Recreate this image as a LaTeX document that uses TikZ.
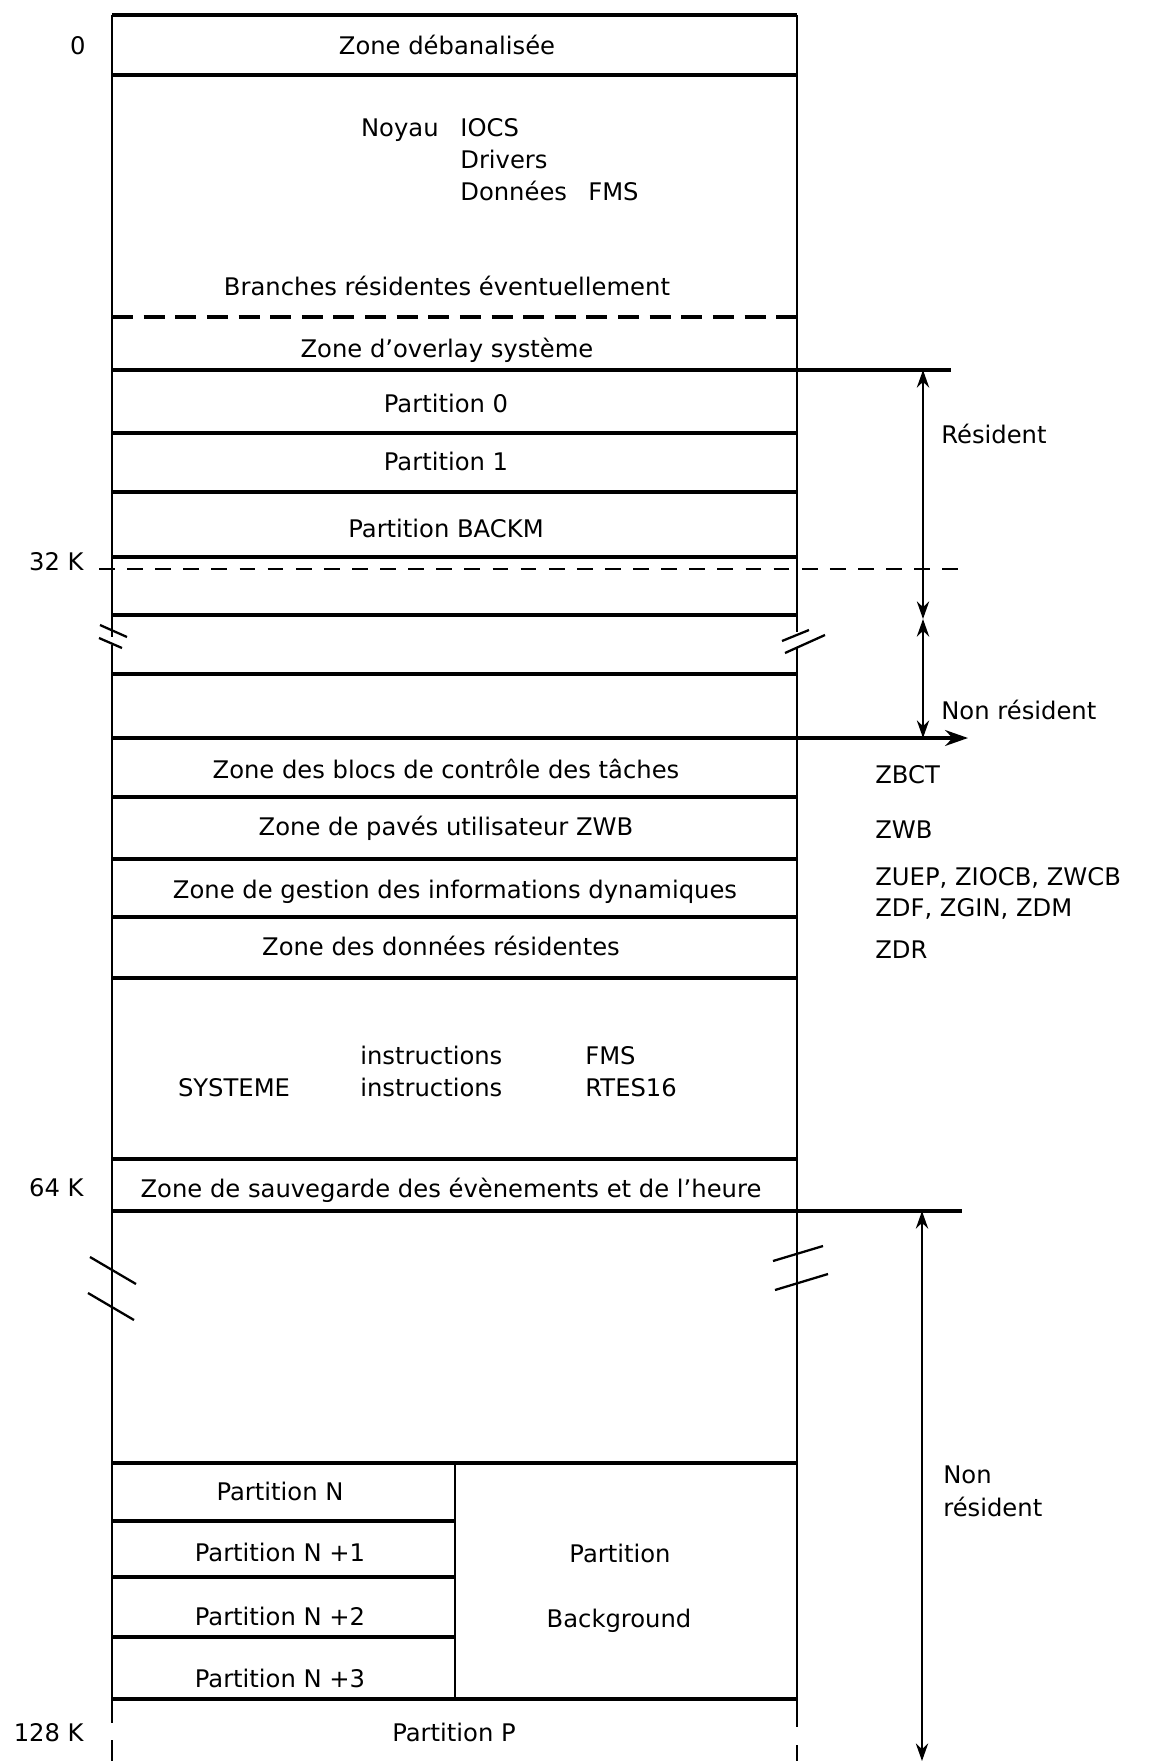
\documentclass[tikz,border=0pt]{standalone}
\usepackage{fontspec}
\setmainfont{DejaVu Sans}
\usetikzlibrary{arrows.meta}

\begin{document}
\begin{tikzpicture}[x=0.02cm, y=-0.02cm,
    sep/.style={line width=2pt},
    side/.style={line width=1.2pt},
    cut/.style={line width=1.3pt},
    lbl/.style={inner sep=0pt, anchor=mid, yshift=-0.1cm, font=\fontsize{13.8}{16}\selectfont},
    lft/.style={lbl, anchor=mid west},
    adr/.style={lbl, anchor=mid east},
    dim/.style={line width=1.2pt, {Stealth[length=10pt,width=7pt]}-{Stealth[length=10pt,width=7pt]}}]

\useasboundingbox (0,0) rectangle (1153,1761);

% sides of the map, with the cuts
\draw[side] (112,15) -- (112,637);
\draw[side] (112,645) -- (112,1723);
\draw[side] (112,1740) -- (112,1761);
\draw[side] (797,15) -- (797,632);
\draw[side] (797,648) -- (797,1727);
\draw[side] (797,1745) -- (797,1761);

\foreach \y in {15,75,370,433,492,557,615,674,738,797,859,917,978,1159,1211,1463,1699}
    \draw[sep] (112,\y) -- (797,\y);
\draw[sep, dash pattern=on 12pt off 6pt] (112,317) -- (797,317);

\foreach \y in {1521,1577,1637}
    \draw[sep] (112,\y) -- (455,\y);
\draw[side] (455,1463) -- (455,1699);

% cut marks
\draw[cut] (100,625) -- (127,637);
\draw[cut] (99,638) -- (122,648);
\draw[cut] (782,641) -- (809,630);
\draw[cut] (785,653) -- (825,635);
\draw[cut] (90,1257) -- (136,1284);
\draw[cut] (88,1293) -- (134,1320);
\draw[cut] (773,1261) -- (823,1246);
\draw[cut] (775,1290) -- (828,1274);

% right hand marks
\coordinate (r0) at (951,370);
\coordinate (r1) at (923,370);
\coordinate (r2) at (923,619);
\coordinate (r3) at (923,738);
\coordinate (nr) at (968,738);
\coordinate (k32) at (968,569);
\coordinate (s0) at (962,1211);
\coordinate (s1) at (922,1211);
\coordinate (s2) at (922,1761);

\draw[sep] (797,370) -- (r0);
\draw[sep] (797,1211) -- (s0);
\draw[sep, -{Stealth[length=13pt,width=9pt]}] (797,738) -- (nr);
\draw[line width=1.6pt, dash pattern=on 9pt off 7pt] (99,569) -- (k32);
\draw[dim] (r1) -- (r2);
\draw[dim] (r2) -- (r3);
\draw[dim] (s1) -- (s2);

% addresses
\node[adr] (a0) at (86,45) {0};
\node[adr] (a32) at (84,561) {32 K};
\node[adr] (a64) at (84,1187) {64 K};
\node[adr] (a128) at (84,1732) {128 K};

% zones
\node[lbl] (zdeb) at (447,45) {Zone débanalisée};
\node[lbl, anchor=mid east] (noyau) at (439,127) {Noyau};
\node[lft] (iocs) at (460,127) {IOCS};
\node[lft] (drv) at (460,159) {Drivers};
\node[lft] (don) at (460,191) {Données};
\node[lft] (dfms) at (588,191) {FMS};
\node[lbl] (bran) at (447,286) {Branches résidentes éventuellement};
\node[lbl] (ovl) at (447,348) {Zone d'overlay système};
\node[lbl] (p0) at (446,403) {Partition 0};
\node[lbl] (p1) at (446,461) {Partition 1};
\node[lbl] (pbk) at (446,528) {Partition BACKM};
\node[lbl] (zbct) at (446,769) {Zone des blocs de contrôle des tâches};
\node[lbl] (zwb) at (446,826) {Zone de pavés utilisateur ZWB};
\node[lbl] (zgid) at (455,889) {Zone de gestion des informations dynamiques};
\node[lbl] (zdr) at (441,946) {Zone des données résidentes};
\node[lbl] (sys) at (234,1087) {SYSTEME};
\node[lft] (ins1) at (360,1055) {instructions};
\node[lft] (ins2) at (360,1087) {instructions};
\node[lft] (sfms) at (585,1055) {FMS};
\node[lft] (rtes) at (585,1087) {RTES16};
\node[lbl] (zsav) at (451,1188) {Zone de sauvegarde des évènements et de l'heure};
\node[lbl] (pn) at (280,1491) {Partition N};
\node[lbl] (pn1) at (280,1552) {Partition N +1};
\node[lbl] (pn2) at (280,1616) {Partition N +2};
\node[lbl] (pn3) at (280,1678) {Partition N +3};
\node[lbl] (pbg1) at (620,1553) {Partition};
\node[lbl] (pbg2) at (619,1618) {Background};
\node[lbl] (pp) at (454,1732) {Partition P};

% right hand labels
\node[lft] (res) at (941,434) {Résident};
\node[lft] (nres) at (941,710) {Non résident};
\node[lft] (lzbct) at (875,774) {ZBCT};
\node[lft] (lzwb) at (875,829) {ZWB};
\node[lft] (lzu) at (875,876) {ZUEP, ZIOCB, ZWCB};
\node[lft] (lzd) at (875,907) {ZDF, ZGIN, ZDM};
\node[lft] (lzdr) at (875,949) {ZDR};
\node[lft] (nres1) at (943,1474) {Non};
\node[lft] (nres2) at (943,1507) {résident};

\end{tikzpicture}
\end{document}
